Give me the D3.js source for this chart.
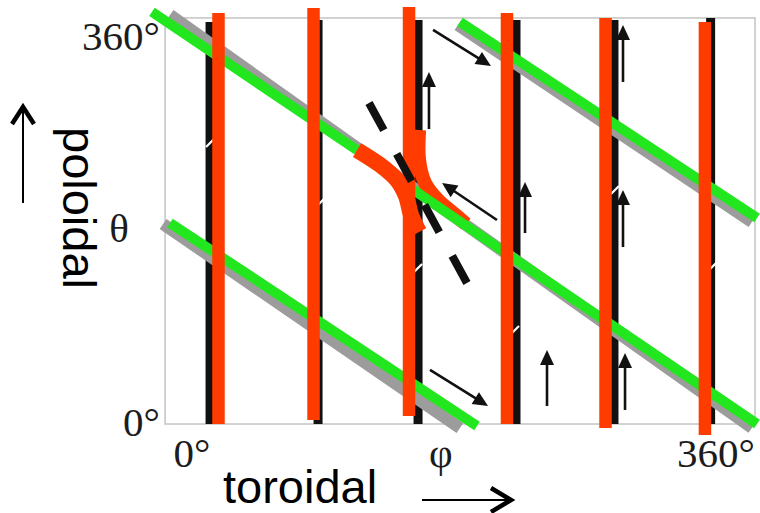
<!DOCTYPE html>
<html><head><meta charset="utf-8">
<script src="https://cdn.jsdelivr.net/npm/d3@7"></script>
<style>html,body{margin:0;padding:0;background:#fff;} svg{display:block;}</style>
</head><body>
<svg id="chart" width="760" height="513"></svg>
<script>
// ---- data (angles in degrees: toroidal phi on x, poloidal theta on y) ----
const frameX = [-18.5, 386.8];
const frameY = [0, 378.7];

const blackLines = [
  {x: 12.4, y0: 0, y1: 374.9},
  {x: 86.6, y0: 0, y1: 376.8},
  {x: 155.3, y0: 0, y1: 376.8},
  {x: 222.6, y0: 0, y1: 376.8},
  {x: 289.9, y0: 0, y1: 376.8},
  {x: 356.3, y0: 0, y1: 378.7}
];
const lineBreaks = [
  {x: 12.4, y: 262.1}, {x: 87.9, y: 206.1}, {x: 155.3, y: 145.5},
  {x: 221.9, y: 87.7}, {x: 290.6, y: 218.2}, {x: 358.0, y: 147.4}
];
const redLines = [
  {x: 18.2, y0: 0, y1: 383.3},
  {x: 83.5, y0: 3.7, y1: 388.0},
  {x: 149.1, y0: 7.5, y1: 388.9},
  {x: 216.4, y0: 0, y1: 383.3},
  {x: 284.1, y0: -3.7, y1: 378.7},
  {x: 352.4, y0: -10.3, y1: 374.9}
];
const greenLines = [
  {x0: -27.5, y0: 384.3, x1: 113.4, y1: 255.5},
  {x0: 151.1, y0: 219.2, x1: 388.2, y1: 0},
  {x0: -15.1, y0: 187.5, x1: 195.8, y1: -1.9},
  {x0: 184.1, y0: 374.9, x1: 388.2, y1: 192.1}
];
const grayLines = [
  {x0: -15.1, y0: 381.5, x1: 384.7, y1: -3.7},
  {x0: -19.9, y0: 186.5, x1: 184.1, y1: -3.7},
  {x0: 182.7, y0: 372.1, x1: 384.7, y1: 188.4}
];
const redBranchLeft = [[113.4,255.5],[129.2,241.6],[140.8,227.6],[147.0,212.6],[150.5,194.9],[156.0,179.1]];
const redBranchRight = [[156.0,274.2],[156.0,246.2],[160.1,224.8],[169.0,208.9],[178.6,197.7],[188.2,186.5]];
const dashedLine = {x0: 121.6, y0: 299.4, x1: 188.9, y1: 131.5};
const flowArrows = [
  {x0: 165.6, y0: 367.5, x1: 205.4, y1: 333.9},
  {x0: 162.8, y0: 275.1, x1: 162.8, y1: 328.3},
  {x0: 228.8, y0: 178.1, x1: 228.8, y1: 225.7},
  {x0: 296.1, y0: 319.0, x1: 296.1, y1: 372.1},
  {x0: 296.1, y0: 165.1, x1: 296.1, y1: 218.2},
  {x0: 209.5, y0: 190.3, x1: 171.8, y1: 224.8},
  {x0: 163.5, y0: 50.4, x1: 203.4, y1: 16.8},
  {x0: 243.9, y0: 16.8, x1: 243.9, y1: 69.0},
  {x0: 297.5, y0: 13.1, x1: 297.5, y1: 66.2}
];
const yTickLabels = ["0°", "θ", "360°"];
const yTickValues = [0, 181, 360];
const xTickLabels = ["0°", "φ", "360°"];
const xTickValues = [0, 171, 360];
const xTitle = "toroidal";
const yTitle = "poloidal";

// ---- layout ----
const svg = d3.select("#chart");
const x = d3.scaleLinear().domain([0, 360]).range([192, 716]);
const y = d3.scaleLinear().domain([0, 360]).range([424, 38]);

const RED = "#ff3c00", GREEN = "#22e61e", GRAY = "#9c9c9c", BLACK = "#111";

// frame
svg.append("rect")
  .attr("x", x(frameX[0])).attr("y", y(frameY[1]))
  .attr("width", x(frameX[1]) - x(frameX[0]))
  .attr("height", y(frameY[0]) - y(frameY[1]))
  .attr("fill", "none").attr("stroke", "#c4c4c4").attr("stroke-width", 1.5);

// black field lines
svg.append("g").selectAll("line").data(blackLines).join("line")
  .attr("x1", d => x(d.x)).attr("x2", d => x(d.x))
  .attr("y1", d => y(d.y0)).attr("y2", d => y(d.y1))
  .attr("stroke", BLACK).attr("stroke-width", 9);

// small white breaks
svg.append("g").selectAll("line").data(lineBreaks).join("line")
  .attr("x1", d => x(d.x) - 4).attr("y1", d => y(d.y) + 4)
  .attr("x2", d => x(d.x) + 4).attr("y2", d => y(d.y) - 4)
  .attr("stroke", "#fff").attr("stroke-width", 2.2);

// gray shadows
svg.append("g").selectAll("line").data(grayLines).join("line")
  .attr("x1", d => x(d.x0)).attr("y1", d => y(d.y0))
  .attr("x2", d => x(d.x1)).attr("y2", d => y(d.y1))
  .attr("stroke", GRAY).attr("stroke-width", 12);

const curve = d3.line().x(d => x(d[0])).y(d => y(d[1])).curve(d3.curveCatmullRom);

// right reconnection branch (under green)
svg.append("path").attr("d", curve(redBranchRight))
  .attr("fill", "none").attr("stroke", RED).attr("stroke-width", 14);

// green lines
svg.append("g").selectAll("line").data(greenLines).join("line")
  .attr("x1", d => x(d.x0)).attr("y1", d => y(d.y0))
  .attr("x2", d => x(d.x1)).attr("y2", d => y(d.y1))
  .attr("stroke", GREEN).attr("stroke-width", 10);

// red vertical lines
svg.append("g").selectAll("line").data(redLines).join("line")
  .attr("x1", d => x(d.x)).attr("x2", d => x(d.x))
  .attr("y1", d => y(d.y0)).attr("y2", d => y(d.y1))
  .attr("stroke", RED).attr("stroke-width", 12.5);

// left reconnection branch
svg.append("path").attr("d", curve(redBranchLeft))
  .attr("fill", "none").attr("stroke", RED).attr("stroke-width", 16);

// dashed separatrix
svg.append("line")
  .attr("x1", x(dashedLine.x0)).attr("y1", y(dashedLine.y0))
  .attr("x2", x(dashedLine.x1)).attr("y2", y(dashedLine.y1))
  .attr("stroke", BLACK).attr("stroke-width", 8).attr("stroke-dasharray", "31,27");

// flow arrows
const ag = svg.append("g");
flowArrows.forEach(a => {
  const px0 = x(a.x0), py0 = y(a.y0), px1 = x(a.x1), py1 = y(a.y1);
  const dx = px1 - px0, dy = py1 - py0, L = Math.hypot(dx, dy);
  const ux = dx / L, uy = dy / L, hl = 15, hw = 7;
  const bx = px1 - ux * hl, by = py1 - uy * hl;
  ag.append("line").attr("x1", px0).attr("y1", py0).attr("x2", bx + ux * 2).attr("y2", by + uy * 2)
    .attr("stroke", BLACK).attr("stroke-width", 2.6);
  ag.append("polygon")
    .attr("points", [[px1, py1], [bx - uy * hw, by + ux * hw], [bx + uy * hw, by - ux * hw]].map(p => p.join(",")).join(" "))
    .attr("fill", BLACK);
});

// tick labels
const serif = "'Liberation Serif','DejaVu Serif',serif";
const yLabelAnchorX = [160, 129, 160];
svg.append("g").selectAll("text").data(yTickLabels).join("text")
  .attr("x", (d, i) => yLabelAnchorX[i])
  .attr("y", (d, i) => y(yTickValues[i]) + 12)
  .attr("text-anchor", "end")
  .attr("font-family", serif).attr("font-size", 41).attr("fill", "#1c1c1c")
  .text(d => d);
svg.append("g").selectAll("text").data(xTickLabels).join("text")
  .attr("x", (d, i) => x(xTickValues[i]))
  .attr("y", 467)
  .attr("text-anchor", "middle")
  .attr("font-family", serif).attr("font-size", 41).attr("fill", "#1c1c1c")
  .text(d => d);

// axis titles
const sans = "'Liberation Sans',Arial,sans-serif";
svg.append("text").attr("x", 223).attr("y", 503)
  .attr("font-family", sans).attr("font-size", 47).attr("fill", "#000").text(xTitle);
svg.append("text").attr("transform", "translate(63,127) rotate(90)")
  .attr("font-family", sans).attr("font-size", 47).attr("fill", "#000").text(yTitle);

// direction arrows next to titles
svg.append("line").attr("x1", 422).attr("y1", 500).attr("x2", 511).attr("y2", 500)
  .attr("stroke", "#000").attr("stroke-width", 2);
svg.append("polyline").attr("points", "491,488 511,500 491,512")
  .attr("fill", "none").attr("stroke", "#000").attr("stroke-width", 4.5).attr("stroke-linejoin", "miter");
svg.append("line").attr("x1", 23).attr("y1", 203).attr("x2", 23).attr("y2", 107)
  .attr("stroke", "#000").attr("stroke-width", 2);
svg.append("polyline").attr("points", "12,124 23,107 34,124")
  .attr("fill", "none").attr("stroke", "#000").attr("stroke-width", 4.5).attr("stroke-linejoin", "miter");
</script>
</body></html>
